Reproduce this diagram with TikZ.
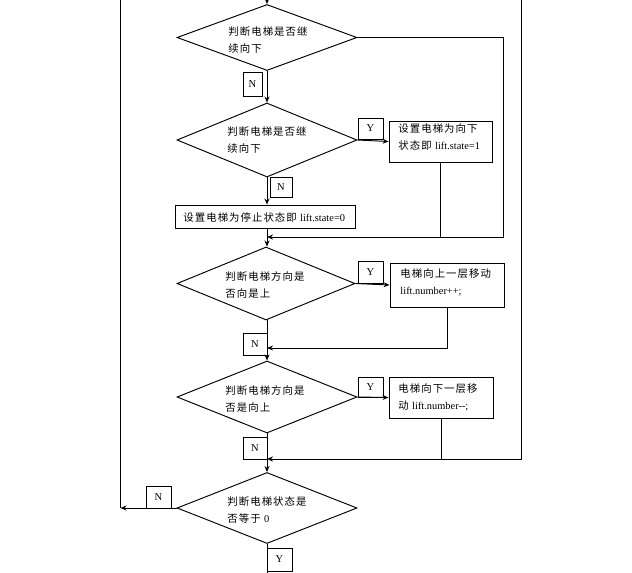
\documentclass[tikz,border=0pt]{standalone}
\usepackage{fontspec}
\setmainfont{Liberation Serif}
\newfontfamily\cjk[LetterSpace=10]{Noto Sans CJK SC}
\usetikzlibrary{shapes.geometric,arrows.meta}
\begin{document}
\begin{tikzpicture}[x=1pt,y=-1pt,
  line width=0.95pt,
  arr/.style={-{Stealth[length=6pt,width=5pt]}},
  dia/.style={draw,shape=diamond,inner sep=0pt},
  procbox/.style={draw,rectangle,inner sep=0pt},
  lab/.style={draw,rectangle,inner sep=0pt,font=\fontsize{10.5}{12}\selectfont},
  txt/.style={anchor=west,inner sep=0pt,align=left,font=\fontsize{10.4}{17}\selectfont\cjk}
]
\useasboundingbox (0,0) rectangle (632,573);
% diamonds
\node[dia,minimum width=180pt,minimum height=66pt] (d1) at (267,37.5) {};
\node[dia,minimum width=180pt,minimum height=74pt] (d2) at (267,140) {};
\node[dia,minimum width=178pt,minimum height=73pt] (d3) at (266,283.5) {};
\node[dia,minimum width=180pt,minimum height=72pt] (d4) at (267,397) {};
\node[dia,minimum width=180pt,minimum height=71pt] (d5) at (267,508) {};
% process boxes
\node[procbox,minimum width=103pt,minimum height=41pt] (b2) at (440.5,141.5) {};
\node[procbox,minimum width=180pt,minimum height=23pt] (bs) at (265,216.5) {};
\node[procbox,minimum width=114pt,minimum height=44pt] (b3) at (447,285) {};
\node[procbox,minimum width=104pt,minimum height=41pt] (b4) at (441,397.5) {};
% texts
\node[txt] (t1) at (228,40.5) {判断电梯是否继\\续向下};
\node[txt] (t2) at (227,140.5) {判断电梯是否继\\续向下};
\node[txt] (tb2) at (398,137.5) {设置电梯为向下\\状态即 {\rmfamily lift.state=1}};
\node[txt] (tbs) at (183,218) {设置电梯为停止状态即 {\rmfamily lift.state=0}};
\node[txt] (t3) at (225,285.5) {判断电梯方向是\\否向是上};
\node[txt] (tb3) at (400,282.5) {电梯向上一层移动\\{\rmfamily lift.number++;}};
\node[txt] (t4) at (225,399) {判断电梯方向是\\否是向上};
\node[txt] (tb4) at (398,397.5) {电梯向下一层移\\动 {\rmfamily lift.number-{}-;}};
\node[txt] (t5) at (227,510) {判断电梯状态是\\否等于 {\rmfamily 0}};
% coordinates
\coordinate (top) at (267,0);
\coordinate (ltop) at (120.5,0);
\coordinate (lbot) at (120.5,508);
\coordinate (rtop) at (521,0);
\coordinate (rbot) at (521,459);
\coordinate (r1) at (503,37.5);
\coordinate (r1b) at (503,237);
\coordinate (j1) at (267,237);
\coordinate (c3) at (447,348);
\coordinate (j2) at (267,348);
\coordinate (j3) at (267,459);
\coordinate (bot) at (267,573);
% connectors
\draw[arr] (top) -- (d1.north);
\draw[arr] (d1.south) -- (d2.north);
\draw[arr] (d2.east) -- (b2.west);
\draw[arr] (d2.south) -- (bs.north -| d2.south);
\draw[arr] (bs.south -| d2.south) -- (d3.north -| d2.south);
\draw[arr] (d1.east) -- (r1) -- (r1b) -- (j1);
\draw (b2.south) -- (b2.south |- j1);
\draw[arr] (d3.east) -- (b3.west);
\draw[arr] (d3.south -| d2.south) -- (d4.north);
\draw[arr] (b3.south) -- (c3) -- (j2);
\draw[arr] (d4.east) -- (b4.west);
\draw[arr] (d4.south) -- (d5.north);
\draw[arr] (rtop) -- (rbot) -- (j3);
\draw (b4.south) -- (b4.south |- j3);
\draw (ltop) -- (lbot);
\draw[arr] (d5.west) -- (lbot);
\draw (d5.south) -- (bot);
% Y/N labels
\node[lab,minimum width=19pt,minimum height=24pt] (n1) at (252.5,84) {N};
\node[lab,minimum width=25pt,minimum height=21pt] (y2) at (370.5,128.5) {Y};
\node[lab,minimum width=22pt,minimum height=20pt] (n2) at (281,187) {N};
\node[lab,minimum width=25pt,minimum height=22pt] (y3) at (370.5,272) {Y};
\node[lab,minimum width=24pt,minimum height=22pt] (n3) at (255,344) {N};
\node[lab,minimum width=25pt,minimum height=20pt] (y4) at (370.5,387) {Y};
\node[lab,minimum width=24pt,minimum height=22pt] (n4) at (255,448) {N};
\node[lab,minimum width=25pt,minimum height=22pt] (n5) at (158.5,497) {N};
\node[lab,minimum width=25pt,minimum height=23pt] (y5) at (279.5,559.5) {Y};
\end{tikzpicture}
\end{document}
